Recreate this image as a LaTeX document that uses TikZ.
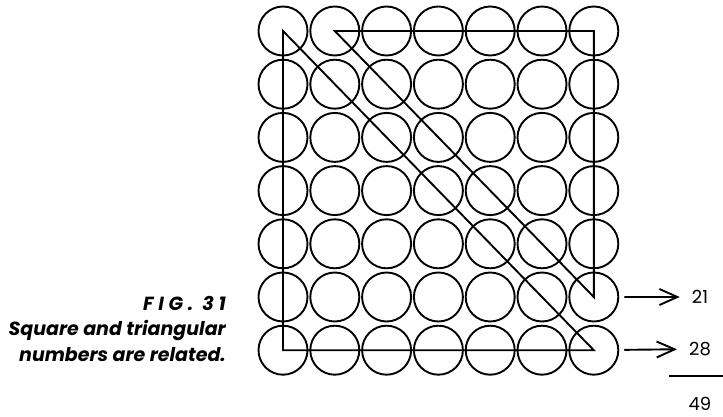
\documentclass[tikz,border=0pt]{standalone}
\usepackage{fontspec}
\setsansfont{Poppins}
\usetikzlibrary{arrows.meta}

\tikzstyle{ball} = [circle, draw, line width=1.9pt, minimum size=49pt, inner sep=0pt]
\tikzstyle{tri} = [line width=1.9pt, line join=miter]
\tikzstyle{arr} = [line width=1.9pt, -{Straight Barb[length=18pt,width=16pt,line width=1.9pt]}]
\tikzstyle{num} = [font=\sffamily\fontsize{18}{18}\selectfont, inner sep=0pt]
\tikzstyle{legend} = [font=\sffamily\bfseries\itshape\fontsize{19}{25.5}\selectfont, align=right, anchor=north east, inner sep=0pt]

\begin{document}
\begin{tikzpicture}[x=1pt, y=-1pt]
\useasboundingbox (0,0) rectangle (723,417);
% 7 x 7 balls
\foreach \i in {0,...,6}
  \foreach \j in {0,...,6}
    \node[ball] (c-\i-\j) at (283+51.8*\i, 31+53.2*\j) {};
% the two triangles
\draw[tri] (c-0-0.center) -- (c-0-6.center) -- (c-6-6.center) -- cycle;
\draw[tri] (c-1-0.center) -- (c-6-0.center) -- (c-6-5.center) -- cycle;
% sums
\node[num] (n21) at (700,297) {21};
\node[num] (n28) at (700,349) {28};
\node[num] (n49) at (700,404) {49};
\draw[arr, shorten <=5pt, shorten >=12pt] (c-6-5) -- (n21);
\draw[arr, shorten <=5pt, shorten >=12pt] (c-6-6) -- (n28);
\draw[line width=1.9pt] (669,376) -- (723,376);
% caption
\node[legend] (fig) at (226,296) {{\addfontfeatures{LetterSpace=25}FIG. 31}\\Square and triangular\\numbers are related.};
\end{tikzpicture}
\end{document}
